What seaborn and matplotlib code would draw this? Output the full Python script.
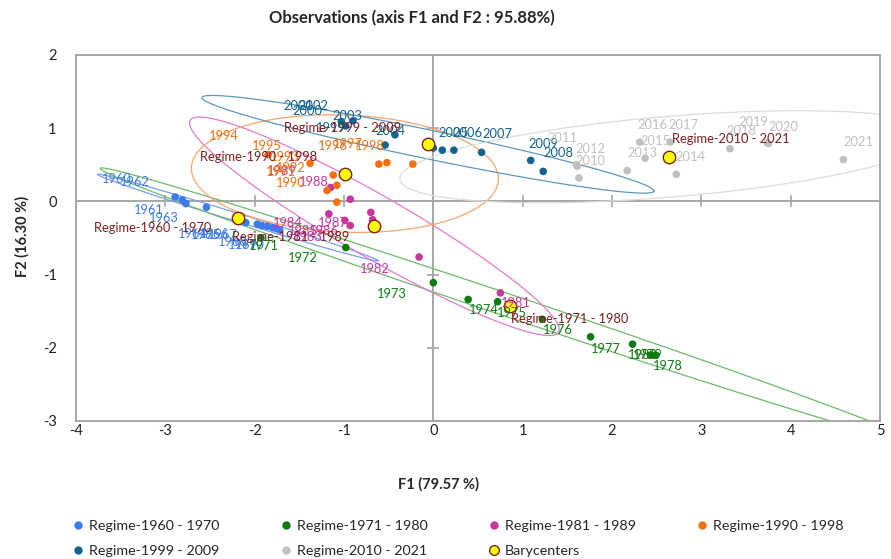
import numpy as np
import pandas as pd
import matplotlib
matplotlib.use("Agg")
import matplotlib.pyplot as plt
import seaborn as sns
from matplotlib.lines import Line2D

# ---------------- data ----------------
regimes = ["Regime-1960 - 1970", "Regime-1971 - 1980", "Regime-1981 - 1989",
           "Regime-1990 - 1998", "Regime-1999 - 2009", "Regime-2010 - 2021"]
colors = ["#3D7BEA", "#0F7A12", "#C8379E", "#F7700F", "#13628F", "#C0C0C0"]
ellipse_colors = ["#7C9FF0", "#6DBA6D", "#E27BCB", "#F9A56A", "#5D98BE", "#DCDCDC"]

r1_years = [1960, 1961, 1962, 1963, 1964, 1965, 1966, 1967, 1968, 1969, 1970]
r1_f1 = [-2.89, -2.81, -2.77, -2.54, -2.10, -1.97, -1.92, -1.86, -1.80, -1.72, -1.76]
r1_f2 = [0.06, 0.02, -0.03, -0.08, -0.29, -0.31, -0.33, -0.34, -0.36, -0.39, -0.37]

r2_years = [1971, 1972, 1973, 1974, 1975, 1976, 1977, 1978, 1979, 1980]
r2_f1 = [-1.93, -0.98, 0.00, 0.39, 0.72, 1.22, 1.76, 2.49, 2.43, 2.23]
r2_f2 = [-0.50, -0.63, -1.11, -1.34, -1.37, -1.61, -1.85, -2.10, -2.10, -1.95]

r3_years = [1981, 1982, 1983, 1984, 1985, 1986, 1987, 1988, 1989]
r3_f1 = [0.75, -0.16, -0.93, -1.17, -0.99, -0.68, -0.70, -1.15, -0.93]
r3_f2 = [-1.25, -0.76, -0.33, -0.17, -0.26, -0.25, -0.15, 0.19, 0.03]

r4_years = [1990, 1991, 1992, 1993, 1994, 1995, 1996, 1997, 1998]
r4_f1 = [-1.19, -1.08, -1.12, -1.38, -1.85, -1.08, -0.61, -0.52, -0.23]
r4_f2 = [0.15, 0.22, 0.36, 0.52, 0.64, -0.01, 0.51, 0.53, 0.51]

r5_years = [1999, 2000, 2001, 2002, 2003, 2004, 2005, 2006, 2007, 2008, 2009]
r5_f1 = [-1.03, -0.98, -0.90, -0.54, -0.43, 0.00, 0.10, 0.23, 0.54, 1.23, 1.09]
r5_f2 = [1.09, 1.03, 1.10, 0.77, 0.91, 0.73, 0.70, 0.70, 0.67, 0.41, 0.56]

r6_years = [2010, 2011, 2012, 2013, 2014, 2015, 2016, 2017, 2018, 2019, 2020, 2021]
r6_f1 = [1.63, 1.60, 1.61, 2.17, 2.72, 2.37, 2.31, 2.65, 3.32, 3.74, 3.75, 4.59]
r6_f2 = [0.32, 0.50, 0.48, 0.42, 0.37, 0.59, 0.81, 0.81, 0.72, 0.80, 0.79, 0.57]

# barycenters of each regime
bary_f1 = [-2.19, 0.86, -0.66, -0.99, -0.06, 2.64]
bary_f2 = [-0.22, -1.43, -0.34, 0.38, 0.78, 0.61]

# confidence ellipses (semi-axes and orientation in F1/F2 units)
ell_a = [1.68, 4.96, 2.52, 1.72, 2.61, 3.03]
ell_b = [0.055, 0.15, 0.40, 0.80, 0.195, 0.55]
ell_angle = [-20.6, -22.3, -35.3, -3.0, -14.2, 5.9]

# ---------------- label layout (text positions) ----------------
r1_lx = [-3.54, -3.19, -3.34, -3.02, -2.69, -2.55, -2.46, -2.36, -2.24, -2.13, -2.05]
r1_ly = [0.30, -0.12, 0.26, -0.23, -0.45, -0.46, -0.45, -0.46, -0.56, -0.59, -0.59]
r2_lx = [-1.90, -1.46, -0.47, 0.56, 0.88, 1.39, 1.93, 2.62, 2.40, 2.35]
r2_ly = [-0.61, -0.78, -1.26, -1.49, -1.52, -1.75, -2.01, -2.25, -2.10, -2.10]
r3_lx = [0.92, -0.65, -1.41, -1.63, -1.46, -1.23, -1.13, -1.34, -1.70]
r3_ly = [-1.39, -0.92, -0.48, -0.30, -0.41, -0.40, -0.29, 0.27, 0.42]
r4_lx = [-1.60, -1.71, -1.60, -1.66, -2.35, -1.86, -1.13, -0.96, -0.71]
r4_ly = [0.25, 0.40, 0.46, 0.60, 0.89, 0.75, 0.75, 0.79, 0.75]
r5_lx = [-1.15, -1.41, -1.51, -1.34, -0.96, -0.48, 0.22, 0.38, 0.72, 1.40, 1.23]
r5_ly = [1.00, 1.23, 1.31, 1.30, 1.16, 0.96, 0.93, 0.93, 0.92, 0.66, 0.79]
r6_lx = [1.76, 1.44, 1.76, 2.34, 2.88, 2.49, 2.45, 2.80, 3.45, 3.58, 3.92, 4.76]
r6_ly = [0.55, 0.87, 0.71, 0.66, 0.60, 0.82, 1.05, 1.04, 0.96, 1.08, 1.02, 0.81]
regime_lx = [-3.14, 1.53, -1.60, -1.96, -1.02, 3.33]
regime_ly = [-0.37, -1.60, -0.48, 0.61, 1.00, 0.85]

x_ticks = [-4, -3, -2, -1, 0, 1, 2, 3, 4, 5]
y_ticks = [-3, -2, -1, 0, 1, 2]

# ---------------- build table ----------------
groups = [
    (r1_years, r1_f1, r1_f2, r1_lx, r1_ly),
    (r2_years, r2_f1, r2_f2, r2_lx, r2_ly),
    (r3_years, r3_f1, r3_f2, r3_lx, r3_ly),
    (r4_years, r4_f1, r4_f2, r4_lx, r4_ly),
    (r5_years, r5_f1, r5_f2, r5_lx, r5_ly),
    (r6_years, r6_f1, r6_f2, r6_lx, r6_ly),
]
rows = []
for reg, (yrs, f1, f2, lx, ly) in zip(regimes, groups):
    for y, a, b, tx, ty in zip(yrs, f1, f2, lx, ly):
        rows.append(dict(regime=reg, year=str(y), F1=a, F2=b, lx=tx, ly=ty))
df = pd.DataFrame(rows)
bary = pd.DataFrame(dict(regime=regimes, F1=bary_f1, F2=bary_f2,
                         lx=regime_lx, ly=regime_ly))

# ---------------- style ----------------
sns.set_style("white")
plt.rcParams["font.family"] = ["Lato", "DejaVu Sans"]
plt.rcParams["axes.unicode_minus"] = False

fig = plt.figure(figsize=(8.91, 5.59), dpi=100)
ax = fig.add_axes([76 / 891, 1 - 421 / 559, (880 - 76) / 891, (421 - 55) / 559])

axis_grey = "#A6A6A6"
ax.axhline(0, color=axis_grey, lw=1.4, zorder=1)
ax.axvline(0, color=axis_grey, lw=1.4, zorder=1)
for xt in x_ticks[1:-1]:
    if xt != 0:
        ax.plot([xt], [0], marker="|", ms=8, mew=1.2, color=axis_grey, zorder=1)
for yt in y_ticks[1:-1]:
    if yt != 0:
        ax.plot([0], [yt], marker="_", ms=8, mew=1.2, color=axis_grey, zorder=1)

# ellipses
t = np.linspace(0, 2 * np.pi, 400)
for cx, cy, a, b, ang, col in zip(bary_f1, bary_f2, ell_a, ell_b, ell_angle, ellipse_colors):
    ph = np.deg2rad(ang)
    ex = cx + a * np.cos(ph) * np.cos(t) - b * np.sin(ph) * np.sin(t)
    ey = cy + a * np.sin(ph) * np.cos(t) + b * np.cos(ph) * np.sin(t)
    ax.plot(ex, ey, color=col, lw=0.9, zorder=2)

palette = dict(zip(regimes, colors))
sns.scatterplot(data=df, x="F1", y="F2", hue="regime", palette=palette,
                s=30, edgecolor="none", legend=False, ax=ax, zorder=3)
sns.scatterplot(data=bary, x="F1", y="F2", color="#FFFF00", s=80,
                edgecolor="#7F1F1F", linewidth=1.0, legend=False, ax=ax, zorder=4)

for _, r in df.iterrows():
    ax.text(r.lx, r.ly, r.year, color=palette[r.regime], fontsize=9.3,
            ha="center", va="center", zorder=5)
for _, r in bary.iterrows():
    ax.text(r.lx, r.ly, r.regime, color="#7F1F1F", fontsize=9.3,
            ha="center", va="center", zorder=6)

ax.set_xlim(-4, 5)
ax.set_ylim(-3, 2)
ax.set_xticks(x_ticks)
ax.set_yticks(y_ticks)
ax.tick_params(axis="both", length=0, labelsize=10.5, colors="#222222")
ax.tick_params(axis="y", pad=14)
ax.tick_params(axis="x", pad=2)
ax.set_xlabel("")
ax.set_ylabel("")
for sp in ax.spines.values():
    sp.set_color(axis_grey)
    sp.set_linewidth(1.4)

fig.text(412 / 891, 1 - 18 / 559, "Observations (axis F1 and F2 : 95.88%)",
         ha="center", va="center", fontsize=12, fontweight="bold")
fig.text(438 / 891, 1 - 484 / 559, "F1 (79.57 %)", ha="center", va="center",
         fontsize=10.5, fontweight="bold")
fig.text(22 / 891, 1 - 236 / 559, "F2 (16.30 %)", ha="center", va="center",
         fontsize=10.5, fontweight="bold", rotation=90)

# legend (row-major order in 4 columns)
handles = [Line2D([], [], ls="", marker="o", ms=5, mfc=c, mec=c) for c in colors]
handles.append(Line2D([], [], ls="", marker="o", ms=7, mfc="#FFFF00", mec="#7F1F1F", mew=1))
labels = regimes + ["Barycenters"]
order = [0, 4, 1, 5, 2, 6, 3]
fig.legend([handles[i] for i in order], [labels[i] for i in order],
           ncol=4, loc="upper left", bbox_to_anchor=(68 / 891, 1 - 514 / 559),
           frameon=False, fontsize=10.3, handlelength=0.6, handletextpad=0.5,
           columnspacing=4.3, labelspacing=0.95, borderaxespad=0)

fig.savefig("out.png", dpi=100)
